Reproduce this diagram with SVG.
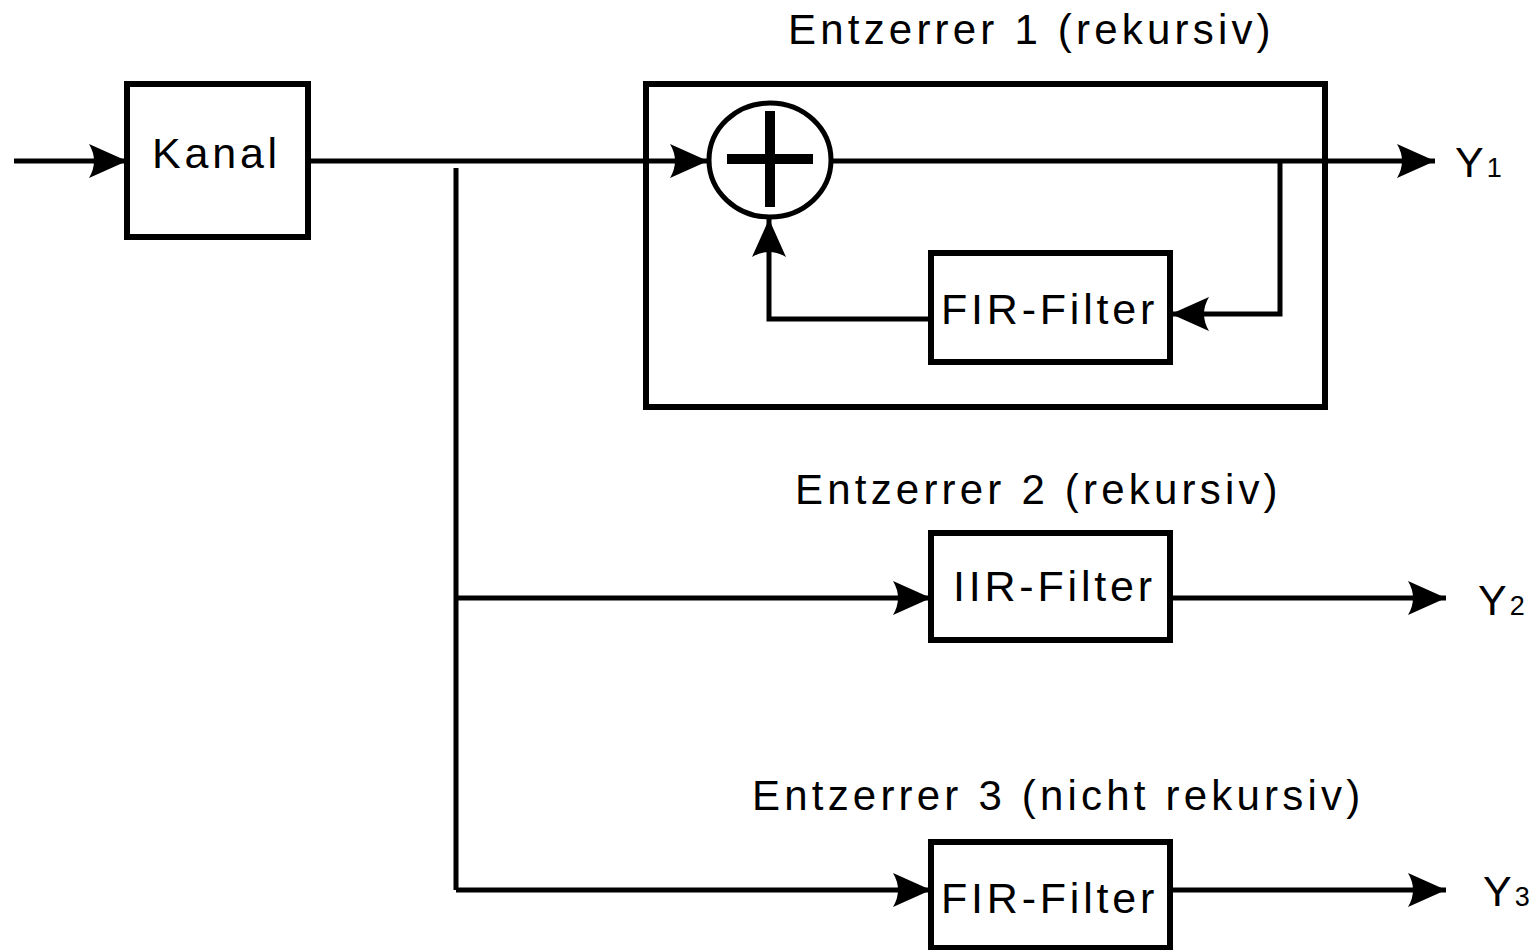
<svg xmlns="http://www.w3.org/2000/svg" width="1540" height="950" viewBox="0 0 1540 950">
<style>
.box{fill:none;stroke:#000;stroke-width:6}
.ln{fill:none;stroke:#000;stroke-width:5}
.arr{marker-end:url(#ah)}
.t{font-family:"Liberation Sans",Arial,sans-serif;font-size:43px;letter-spacing:3.8px;fill:#000}
.ti{font-family:"Liberation Sans",Arial,sans-serif;font-size:42px;letter-spacing:4.2px;fill:#000}
.y{font-family:"Liberation Sans",Arial,sans-serif;font-size:43px;fill:#000}
.s{font-size:27px}
</style>
<defs>
<marker id="ah" markerUnits="userSpaceOnUse" viewBox="-38 -18 38 36" refX="0" refY="0" markerWidth="38" markerHeight="36" orient="auto" overflow="visible">
<path d="M0,0 L-38,-17 Q-28,0 -38,17 Z" fill="#000"/>
</marker>
</defs>
<rect width="1540" height="950" fill="#fff"/>
<g id="connectors">
<line class="ln arr" x1="14" y1="161" x2="127" y2="161"/>
<line class="ln arr" x1="308" y1="161" x2="708" y2="161"/>
<line class="ln arr" x1="833" y1="161" x2="1435" y2="161"/>
<polyline class="ln arr" points="1280,161 1280,314 1171,314"/>
<polyline class="ln arr" points="931,319 769,319 769,219"/>
<polyline class="ln" points="456,168 456,890"/>
<line class="ln arr" x1="456" y1="598" x2="931" y2="598"/>
<line class="ln arr" x1="456" y1="890" x2="931" y2="890"/>
<line class="ln arr" x1="1170" y1="598" x2="1446" y2="598"/>
<line class="ln arr" x1="1170" y1="890" x2="1446" y2="890"/>
</g>
<g id="kanal">
<rect class="box" x="127" y="84" width="181" height="153"/>
<text class="t" x="152" y="168">Kanal</text>
</g>
<g id="entzerrer1">
<rect class="box" x="646" y="84" width="679" height="323"/>
<text class="ti" x="788" y="44">Entzerrer 1 (rekursiv)</text>
</g>
<g id="summer">
<ellipse cx="770" cy="160" rx="61" ry="57" fill="#fff" stroke="#000" stroke-width="5"/>
<rect x="727" y="154" width="86" height="10" fill="#000"/>
<rect x="765" y="111" width="10" height="96" fill="#000"/>
</g>
<g id="fir1">
<rect class="box" x="931" y="253" width="239" height="109" fill="#fff"/>
<text class="t" x="941" y="324">FIR-Filter</text>
</g>
<g id="y1">
<text class="y" x="1455" y="177">Y<tspan class="s" dx="3">1</tspan></text>
</g>
<g id="entzerrer2">
<text class="ti" x="795" y="504">Entzerrer 2 (rekursiv)</text>
</g>
<g id="iir">
<rect class="box" x="931" y="533" width="239" height="107"/>
<text class="t" x="953" y="601">IIR-Filter</text>
</g>
<g id="y2">
<text class="y" x="1478" y="615">Y<tspan class="s" dx="3">2</tspan></text>
</g>
<g id="entzerrer3">
<text class="ti" x="752" y="810">Entzerrer 3 (nicht rekursiv)</text>
</g>
<g id="fir3">
<rect class="box" x="931" y="842" width="239" height="106"/>
<text class="t" x="941" y="913">FIR-Filter</text>
</g>
<g id="y3">
<text class="y" x="1483" y="906">Y<tspan class="s" dx="3">3</tspan></text>
</g>
</svg>
